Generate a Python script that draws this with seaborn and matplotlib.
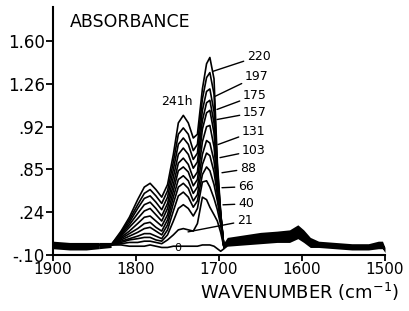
import matplotlib
matplotlib.use("Agg")
import matplotlib.pyplot as plt
import numpy as np
import pandas as pd
import seaborn as sns

# ---------------- data ----------------
times = ["0", "21", "40", "66", "88", "103", "131", "157", "175", "197", "220", "241h"]

# shared baseline (left) where all spectra coincide
left_wn = [1900, 1880, 1860, 1845]
left_abs = [-0.02, -0.03, -0.03, -0.02]

# carbonyl band region, one row per reaction time
band_wn = [1830, 1818, 1808, 1798, 1790, 1783, 1776, 1769, 1762, 1755, 1749,
           1743, 1737, 1731, 1726, 1720, 1715, 1711, 1706, 1702, 1698, 1694]
band_0 = [-0.02, -0.02, -0.03, -0.03, -0.03, -0.02, -0.03, -0.04, -0.04, -0.03, -0.03,
          -0.03, -0.03, -0.03, -0.03, -0.02, -0.02, -0.02, -0.03, -0.05, -0.07, -0.05]
band_21 = [-0.02, -0.01, 0.00, 0.00, 0.01, 0.01, 0.00, -0.01, 0.02, 0.06, 0.10,
           0.11, 0.10, 0.09, 0.15, 0.36, 0.34, 0.28, 0.22, 0.17, 0.08, -0.04]
band_40 = [-0.02, 0.00, 0.02, 0.03, 0.04, 0.04, 0.02, 0.01, 0.06, 0.17, 0.27,
           0.30, 0.27, 0.21, 0.27, 0.48, 0.49, 0.44, 0.35, 0.26, 0.14, -0.04]
band_66 = [-0.02, 0.01, 0.03, 0.05, 0.07, 0.07, 0.05, 0.03, 0.10, 0.25, 0.37,
           0.40, 0.36, 0.28, 0.33, 0.54, 0.60, 0.57, 0.46, 0.33, 0.17, -0.04]
band_88 = [-0.02, 0.02, 0.05, 0.08, 0.11, 0.12, 0.09, 0.06, 0.14, 0.31, 0.44,
           0.47, 0.43, 0.33, 0.38, 0.62, 0.71, 0.69, 0.56, 0.38, 0.19, -0.04]
band_103 = [-0.02, 0.03, 0.07, 0.11, 0.15, 0.16, 0.12, 0.09, 0.18, 0.36, 0.50,
            0.53, 0.49, 0.39, 0.44, 0.70, 0.81, 0.79, 0.65, 0.42, 0.20, -0.04]
band_131 = [-0.02, 0.04, 0.09, 0.15, 0.20, 0.21, 0.17, 0.13, 0.22, 0.41, 0.57,
            0.60, 0.56, 0.45, 0.50, 0.80, 0.92, 0.93, 0.76, 0.46, 0.21, -0.04]
band_157 = [-0.02, 0.05, 0.12, 0.19, 0.25, 0.27, 0.22, 0.17, 0.27, 0.46, 0.63,
            0.67, 0.62, 0.51, 0.56, 0.90, 1.03, 1.05, 0.87, 0.50, 0.22, -0.04]
band_175 = [-0.02, 0.06, 0.14, 0.23, 0.30, 0.32, 0.27, 0.21, 0.31, 0.52, 0.70,
            0.75, 0.70, 0.59, 0.64, 0.97, 1.11, 1.13, 0.95, 0.53, 0.22, -0.04]
band_197 = [-0.02, 0.07, 0.16, 0.27, 0.35, 0.37, 0.32, 0.26, 0.36, 0.58, 0.78,
            0.83, 0.78, 0.66, 0.71, 1.05, 1.20, 1.22, 1.04, 0.56, 0.23, -0.04]
band_220 = [-0.02, 0.08, 0.18, 0.30, 0.39, 0.42, 0.37, 0.31, 0.41, 0.64, 0.86,
            0.91, 0.86, 0.73, 0.78, 1.14, 1.31, 1.35, 1.18, 0.60, 0.23, -0.04]
band_241 = [-0.02, 0.09, 0.20, 0.34, 0.44, 0.47, 0.42, 0.36, 0.46, 0.70, 0.95,
            1.01, 0.95, 0.83, 0.86, 1.22, 1.42, 1.47, 1.30, 0.64, 0.24, -0.04]
bands = [band_0, band_21, band_40, band_66, band_88, band_103, band_131,
         band_157, band_175, band_197, band_220, band_241]

# shared baseline (right) – upper and lower edge of the thick trace band
right_wn = [1694, 1690, 1670, 1650, 1630, 1615, 1605, 1598, 1590, 1580, 1560, 1540, 1520, 1508, 1503, 1500]
right_upper = [0.00, 0.04, 0.06, 0.08, 0.09, 0.10, 0.14, 0.10, 0.04, 0.01, 0.00, -0.01, -0.01, 0.01, 0.01, -0.04]
right_lower = [-0.05, -0.03, -0.02, -0.01, 0.00, 0.00, 0.03, 0.00, -0.04, -0.04, -0.05, -0.06, -0.06, -0.05, -0.05, -0.08]
left_upper = [0.01, 0.00, 0.00, 0.00]
left_lower = [-0.05, -0.06, -0.06, -0.05]

ytick_vals = [-0.10, 0.24, 0.58, 0.92, 1.26, 1.60]
ytick_labels = ["-.10", ".24", ".85", ".92", "1.26", "1.60"]
xtick_vals = [1900, 1800, 1700, 1600, 1500]

# label layout: (label, text x, text y, leader end x, leader end y)
label_layout = [
    ("220", 1666.3, 1.480, 1707.2, 1.360),
    ("197", 1668.7, 1.321, 1704.8, 1.161),
    ("175", 1671.1, 1.169, 1702.4, 1.057),
    ("157", 1671.1, 1.033, 1702.4, 0.977),
    ("131", 1672.3, 0.882, 1701.2, 0.778),
    ("103", 1672.3, 0.730, 1698.8, 0.674),
    ("88", 1674.7, 0.586, 1696.4, 0.554),
    ("66", 1677.1, 0.443, 1696.4, 0.435),
    ("40", 1677.1, 0.307, 1695.2, 0.299),
    ("21", 1678.3, 0.171, 1737.3, 0.084),
]

# ---------------- build long table ----------------
rows = []
right_mid = [(u + l) / 2 for u, l in zip(right_upper, right_lower)]
for t, b in zip(times, bands):
    wn = left_wn + band_wn + right_wn[1:]
    ab = left_abs + b + right_mid[1:]
    for w, a in zip(wn, ab):
        rows.append({"time": t, "wn": w, "abs": a})
df = pd.DataFrame(rows)

# ---------------- plot ----------------
sns.set_style("ticks")
plt.rcParams["font.family"] = ["DejaVu Sans"]
plt.rcParams["text.color"] = "black"

fig = plt.figure(figsize=(4.09, 3.11), dpi=100)
ax = fig.add_axes([0.1296, 0.18, 0.8117, 0.797])

sns.lineplot(data=df, x="wn", y="abs", hue="time", palette=["black"] * len(times),
             units="time", estimator=None, legend=False, linewidth=1.2, ax=ax)

ax.fill_between(left_wn, left_lower, left_upper, color="black", lw=0)
ax.fill_between([1845, 1830], [-0.05, -0.04], [0.0, 0.0], color="black", lw=0)
ax.fill_between(right_wn, right_lower, right_upper, color="black", lw=0)

ax.set_xlim(1900, 1500)
ax.set_ylim(-0.10, 1.87)
ax.set_xticks(xtick_vals)
ax.set_xticklabels([str(v) for v in xtick_vals])
ax.set_yticks(ytick_vals)
ax.set_yticklabels(ytick_labels)
ax.set_xlabel("")
ax.set_ylabel("")
for s in ["top", "right"]:
    ax.spines[s].set_visible(False)
for s in ["left", "bottom"]:
    ax.spines[s].set_linewidth(1.5)
    ax.spines[s].set_color("black")
ax.tick_params(axis="y", direction="out", length=5, width=1.3, pad=1, labelsize=12,
               colors="black", labelcolor="black")
ax.tick_params(axis="x", direction="out", length=4, width=1.3, pad=1, labelsize=11,
               colors="black", labelcolor="black")

for lab, tx, ty, px, py in label_layout:
    ax.annotate(lab, xy=(px, py), xytext=(tx, ty), ha="left", va="center", fontsize=9,
                color="black",
                arrowprops=dict(arrowstyle="-", color="black", lw=1.0, shrinkA=0, shrinkB=0))
ax.text(1749.4, -0.044, "0", ha="center", va="center", fontsize=8, color="black")
ax.text(1750.6, 1.121, "241h", ha="center", va="center", fontsize=9, color="black")

fig.text(130 / 409, 1 - 22 / 311, "ABSORBANCE", ha="center", va="center",
         fontsize=12.5, color="black")
fig.text(300 / 409, 1 - 292 / 311, r"WAVENUMBER (cm$^{-1}$)", ha="center", va="center",
         fontsize=13, color="black")

fig.savefig("out.png", dpi=100)
